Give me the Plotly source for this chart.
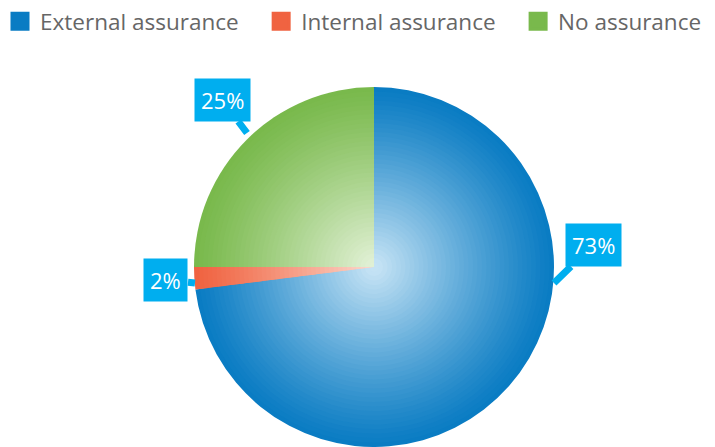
import plotly.graph_objects as go

labels = ["External assurance", "Internal assurance", "No assurance"]
values = [73, 2, 25]
base_colors = ["#0a7cc3", "#f06341", "#79b94c"]
center_colors = ["#c4e2f4", "#fbd5c8", "#e0f0d4"]
callout_text = ["73%", "2%", "25%"]
legend_pad = [3, 3, 0]  # non-breaking spaces appended to legend names for spacing

W, H = 715, 447
cx, cy, R = 374, 267, 180


def hex2rgb(h):
    h = h.lstrip("#")
    return [int(h[i:i + 2], 16) for i in (0, 2, 4)]


def mix(c1, c2, m):
    a, b = hex2rgb(c1), hex2rgb(c2)
    return "rgb(%d,%d,%d)" % tuple(round(a[i] * (1 - m) + b[i] * m) for i in range(3))


fig = go.Figure()
N = 40
for k in range(N):
    f = 1 - k / N  # radius fraction
    m = max(0.0, min(1.0, (1 - f) ** 1.15 * 1.05))
    cols = [mix(base_colors[i], center_colors[i], m) for i in range(3)]
    r = R * f
    fig.add_trace(go.Pie(
        labels=labels, values=values, sort=False, direction="clockwise", rotation=0,
        marker=dict(colors=cols, line=dict(width=0)),
        textinfo="none", hoverinfo="label+percent",
        showlegend=False,
        domain=dict(x=[(cx - r) / W, (cx + r) / W], y=[(H - cy - r) / H, (H - cy + r) / H]),
    ))

# legend entries (square swatches)
for lab, col, pad in zip(labels, base_colors, legend_pad):
    fig.add_trace(go.Scatter(
        x=[None], y=[None], mode="markers", name=lab + "\u00a0" * pad,
        marker=dict(symbol="square", size=16, color=col, line=dict(width=3, color=col)),
        hoverinfo="skip",
    ))

# callouts: tip positions (px) and box offsets
tips = [(554, 283), (195, 283), (247, 133)]
offs = [(39, -38), (-29, -3), (-25, -33)]
for t, (tx, ty), (ax, ay) in zip(callout_text, tips, offs):
    fig.add_annotation(
        x=tx / W, y=1 - ty / H, xref="paper", yref="paper",
        text=t, showarrow=True, ax=ax, ay=ay, arrowhead=0, arrowwidth=7,
        arrowcolor="#00aeef", bgcolor="#00aeef", borderpad=6,
        font=dict(color="white", size=22, family="Open Sans"),
    )

fig.update_layout(
    width=W, height=H, margin=dict(l=0, r=0, t=0, b=0),
    paper_bgcolor="white", plot_bgcolor="rgba(0,0,0,0)",
    font=dict(family="Open Sans", color="#666666"),
    xaxis=dict(visible=False), yaxis=dict(visible=False),
    legend=dict(orientation="h", x=0.0, y=1.0, xanchor="left", yanchor="top",
                font=dict(size=22.5, color="#666666"), itemsizing="trace"),
)
fig.write_html("out.html", config={"displayModeBar": False},
               post_script="document.body.style.margin='0px';")
